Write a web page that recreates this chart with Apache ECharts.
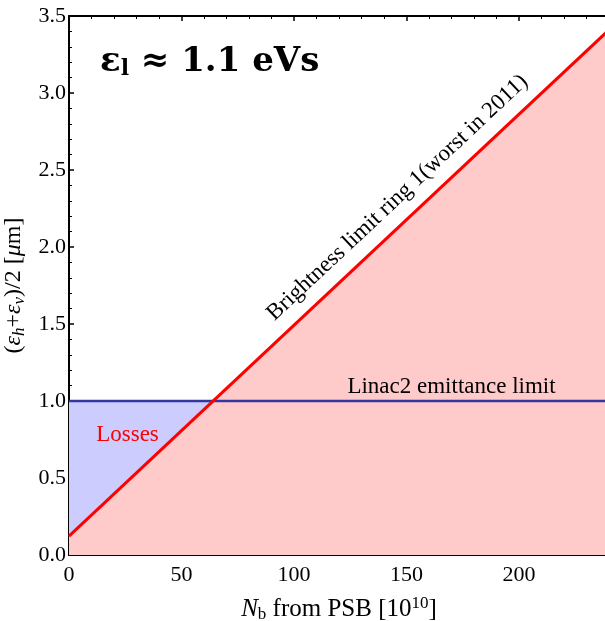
<!DOCTYPE html>
<html><head><meta charset="utf-8">
<script src="https://cdn.jsdelivr.net/npm/echarts@6/dist/echarts.min.js"></script>
<style>html,body{margin:0;padding:0;background:#fff;overflow:hidden}#c{width:605px;height:621px}</style>
</head><body><div id="c"></div>
<script>
// Data
const brightnessX = [0, 240];
const brightnessY = [0.123, 3.41];
const linacX = [0, 240];
const linacY = [1.0, 1.0];
const lossesX = [0, 64];      // region where brightness line is below the linac limit
const lossesY = [1.0, 1.0];
const xTicks = [0, 50, 100, 150, 200];
const yTicks = [0.0, 0.5, 1.0, 1.5, 2.0, 2.5, 3.0, 3.5];

const pairs = (xs, ys) => xs.map((x, i) => [x, ys[i]]);
const serif = 'Liberation Serif';

const chart = echarts.init(document.getElementById('c'));
const axisCommon = {
  type: 'value',
  axisLine: {show: true, onZero: false, lineStyle: {color: '#000', width: 2}},
  axisTick: {show: true, inside: true, length: 5, lineStyle: {color: '#000', width: 1.5}},
  minorTick: {show: true, splitNumber: 5, length: 3, lineStyle: {color: '#000', width: 1}},
  splitLine: {show: false},
};
chart.setOption({
  animation: false,
  grid: {left: 69, top: 16, width: 540, height: 539, containLabel: false, outerBoundsMode: 'none'},
  xAxis: [
    Object.assign({}, axisCommon, {
      position: 'bottom', min: 0, max: 240, interval: 50,
      axisLabel: {color: '#000', fontFamily: serif, fontSize: 22, margin: 9,
        formatter: v => xTicks.includes(v) ? String(v) : ''},
      name: '{i|N}{sub|b} from PSB [10{sup|10}]',
      nameLocation: 'middle', nameGap: 40,
      nameTextStyle: {color: '#000', fontFamily: serif, fontSize: 25,
        rich: {
          i: {fontStyle: 'italic', fontFamily: serif, fontSize: 25, color: '#000'},
          sub: {fontFamily: serif, fontSize: 17, verticalAlign: 'bottom', padding: [11, 0, 0, 0], color: '#000'},
          sup: {fontFamily: serif, fontSize: 17, verticalAlign: 'top', padding: [0, 0, 11, 0], color: '#000'}
        }}
    }),
    Object.assign({}, axisCommon, {
      position: 'top', min: 0, max: 240, interval: 50, axisLabel: {show: false}
    })
  ],
  yAxis: [
    Object.assign({}, axisCommon, {
      position: 'left', min: 0, max: 3.5, interval: 0.5,
      axisLabel: {color: '#000', fontFamily: serif, fontSize: 22, margin: 3,
        formatter: v => yTicks.includes(v) ? v.toFixed(1) : ''},
      name: '({i|ε}{isub|h}+{i|ε}{isub|v})/2 [{i|μ}m]',
      nameLocation: 'middle', nameGap: 36, nameRotate: 90,
      nameTextStyle: {color: '#000', fontFamily: serif, fontSize: 24,
        rich: {
          i: {fontStyle: 'italic', fontFamily: serif, fontSize: 24, color: '#000'},
          isub: {fontStyle: 'italic', fontFamily: serif, fontSize: 17, verticalAlign: 'bottom', padding: [10, 0, 0, 0], color: '#000'}
        }}
    })
  ],
  series: [
    {type: 'line', name: 'losses', data: pairs(lossesX, lossesY), symbol: 'none', z: 1,
      lineStyle: {width: 0}, areaStyle: {color: '#ccccff', opacity: 1, origin: 'start'}},
    {type: 'line', name: 'brightness', data: pairs(brightnessX, brightnessY), symbol: 'none', z: 2,
      lineStyle: {width: 0}, areaStyle: {color: '#ffcaca', opacity: 1, origin: 'start'}},
    {type: 'line', name: 'linac', data: pairs(linacX, linacY), symbol: 'none', z: 3,
      lineStyle: {color: '#35359f', width: 2.5}},
    {type: 'line', name: 'brightnessLine', data: pairs(brightnessX, brightnessY), symbol: 'none', z: 4,
      lineStyle: {color: '#ff0000', width: 3}}
  ]
});

// annotations positioned via data coordinates
const P = (x, y) => chart.convertToPixel({xAxisIndex: 0, yAxisIndex: 0}, [x, y]);
const p1 = P(brightnessX[0], brightnessY[0]), p2 = P(brightnessX[1], brightnessY[1]);
const ang = Math.atan2(p1[1] - p2[1], p2[0] - p1[0]);
const tb = P(146, 2.32), tl = P(170, 1.09), ts = P(26, 0.78);
chart.setOption({
  graphic: [
    {type: 'text', x: 100, y: 80, z: 100,
      style: {text: '{a|ε}{s|l}{a| ≈ 1.1 eVs}', textVerticalAlign: 'bottom',
        rich: {
          a: {fontFamily: 'DejaVu Serif', fontWeight: 'bold', fontSize: 34, fill: '#000'},
          s: {fontFamily: 'DejaVu Serif', fontWeight: 'bold', fontSize: 22, fill: '#000', verticalAlign: 'bottom', padding: [14, 0, 0, 0]}
        }}},
    {type: 'text', x: tb[0], y: tb[1], rotation: ang, z: 100,
      style: {text: 'Brightness limit ring 1(worst in 2011)', fontFamily: serif, fontSize: 23,
        fill: '#000', textAlign: 'center', textVerticalAlign: 'middle'}},
    {type: 'text', x: tl[0], y: tl[1], z: 100,
      style: {text: 'Linac2 emittance limit', fontFamily: serif, fontSize: 23,
        fill: '#000', textAlign: 'center', textVerticalAlign: 'middle'}},
    {type: 'text', x: ts[0], y: ts[1], z: 100,
      style: {text: 'Losses', fontFamily: serif, fontSize: 23,
        fill: '#ff0000', textAlign: 'center', textVerticalAlign: 'middle'}}
  ]
});
</script></body></html>
